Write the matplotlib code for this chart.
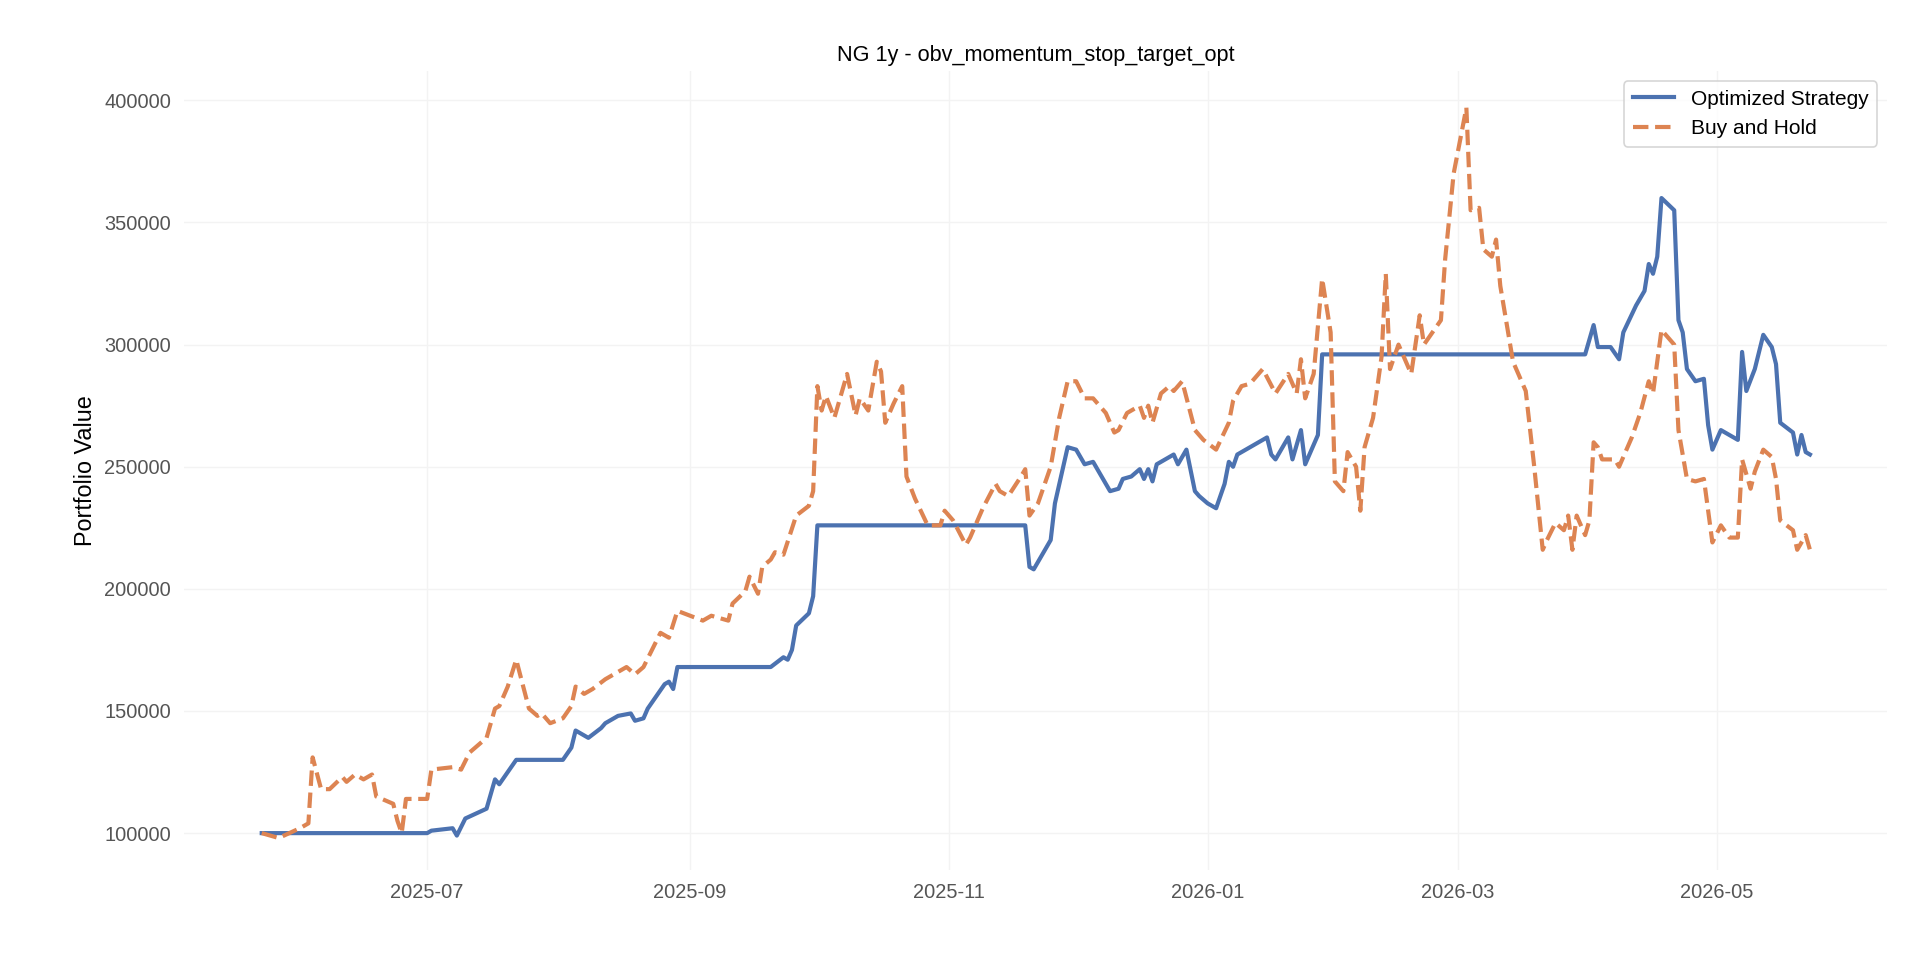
import matplotlib
matplotlib.use("Agg")
import matplotlib.pyplot as plt
import matplotlib.dates as mdates
import pandas as pd

start = pd.Timestamp("2025-05-23")

strat_days = [0,39,40,45,46,48,53,55,56,60,71,73,74,75,77,80,81,84,87,88,90,91,95,96,97,98,120,123,124,125,126,129,130,131,180,181,182,186,187,190,192,194,196,200,202,203,205,207,208,209,210,211,215,216,218,220,221,223,225,227,228,229,230,233,237,238,239,242,243,245,246,249,250,312,314,315,318,320,321,324,326,327,328,329,330,333,334,335,336,338,340,341,342,344,348,349,350,352,354,356,357,358,361,362,363,364,365]
strat_vals = [100,100,101,102,99,106,110,122,120,130,130,135,142,141,139,143,145,148,149,146,147,151,161,162,159,168,168,172,171,175,185,190,197,226,226,209,208,220,235,258,257,251,252,240,241,245,246,249,245,249,244,251,255,251,257,240,238,235,233,243,252,250,255,258,262,255,253,262,253,265,251,263,296,296,308,299,299,294,305,316,322,333,329,336,360,355,310,305,290,285,286,267,257,265,261,297,281,290,304,299,292,268,264,255,263,256,255]

bh_days = [0,4,9,11,12,14,16,19,20,22,24,26,27,31,32,33,34,39,40,45,47,49,53,55,56,58,60,63,65,66,68,71,73,74,76,78,81,84,86,88,90,92,94,96,98,101,104,106,110,111,114,115,117,118,120,121,123,126,129,130,131,132,133,135,138,140,141,143,145,146,147,149,151,152,154,157,160,161,163,166,167,170,173,174,176,179,180,181,183,186,188,190,192,194,196,199,201,202,204,207,208,209,210,212,214,215,217,220,222,225,228,229,231,233,236,239,242,244,245,246,248,250,252,253,255,256,258,259,260,262,264,265,266,268,271,273,274,278,279,281,284,285,287,288,290,291,292,295,298,300,302,303,305,307,308,309,310,312,313,314,315,316,319,320,323,325,327,328,330,333,334,336,338,340,342,344,346,348,349,351,352,354,356,357,358,361,362,364,365]
bh_vals = [100,98,102,104,131,118,118,123,121,124,122,124,115,112,105,100,114,114,126,127,126,133,139,151,152,160,171,151,148,149,145,147,152,160,157,159,163,166,168,165,168,175,182,180,191,189,187,189,187,194,199,205,198,209,212,215,214,230,234,240,283,273,279,270,288,271,278,273,293,289,268,276,283,246,237,226,226,232,228,218,221,233,243,240,238,246,249,230,235,250,270,285,285,278,278,272,264,265,272,275,270,275,268,280,283,281,285,265,261,257,268,277,283,284,290,280,288,280,294,278,288,327,305,244,240,256,250,232,258,270,295,329,290,300,288,312,300,310,335,370,397,355,356,339,336,343,324,293,281,250,216,220,227,224,230,216,230,222,228,260,258,253,253,250,262,272,285,280,306,300,265,245,244,245,219,226,221,221,253,241,248,257,254,245,228,224,216,222,216]

sd = [start + pd.Timedelta(days=d) for d in strat_days]
bd = [start + pd.Timedelta(days=d) for d in bh_days]
sv = [v * 1000 for v in strat_vals]
bv = [v * 1000 for v in bh_vals]

plt.rcParams['font.family'] = ['Liberation Sans', 'DejaVu Sans']
fig, ax = plt.subplots(figsize=(16, 8), dpi=120)
ax.plot(sd, sv, color="#4C72B0", lw=2.5, label="Optimized Strategy")
ax.plot(bd, bv, color="#DD8452", lw=2.5, ls="--", label="Buy and Hold")
ax.set_title("NG 1y - obv_momentum_stop_target_opt", fontsize=13)
ax.set_ylabel("Portfolio Value", fontsize=14)
ax.set_yticks([100000,150000,200000,250000,300000,350000,400000])
ax.set_ylim(85000, 412000)
ax.xaxis.set_major_locator(mdates.MonthLocator(bymonth=[1,3,5,7,9,11]))
ax.xaxis.set_major_formatter(mdates.DateFormatter("%Y-%m"))
for s in ax.spines.values():
    s.set_visible(False)
ax.grid(True, color="#f3f3f3", lw=0.8)
ax.tick_params(colors="#555555", labelsize=12, length=0, pad=8)
ax.legend(loc="upper right", fontsize=12.5, edgecolor="#cccccc")
fig.subplots_adjust(left=0.096, right=0.983, top=0.926, bottom=0.094)
fig.savefig("out.png")
